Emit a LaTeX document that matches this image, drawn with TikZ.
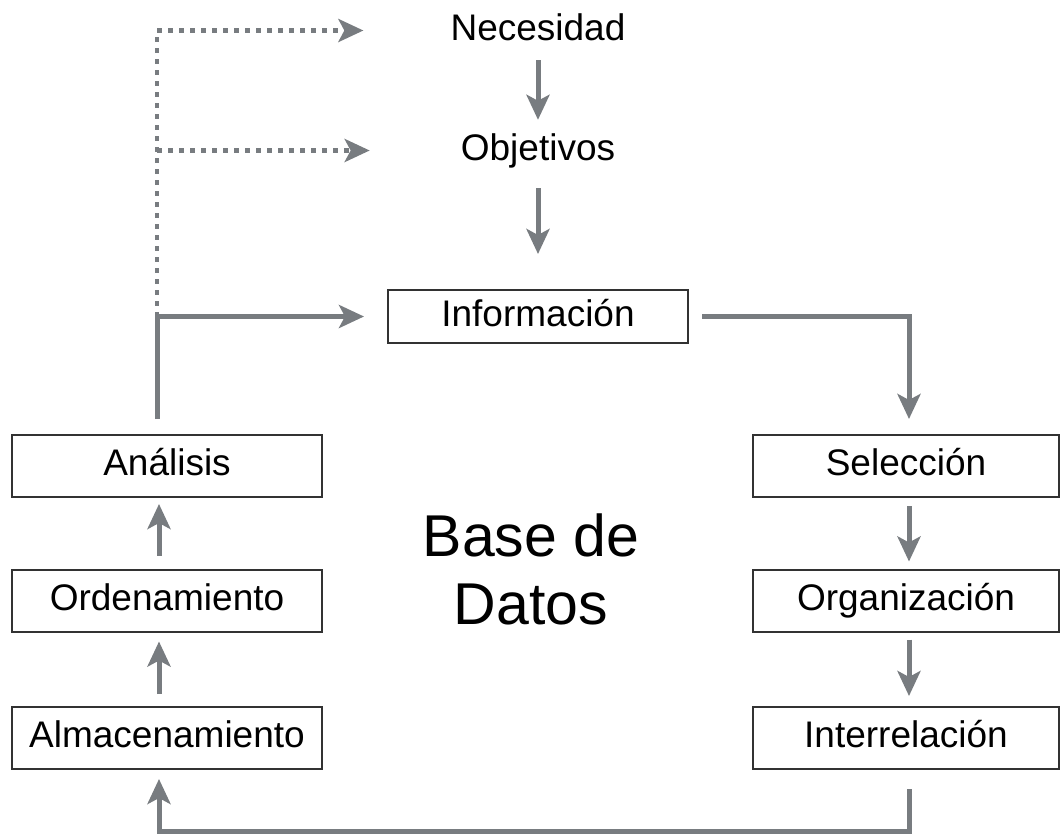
\documentclass[tikz,border=0pt]{standalone}
\usepackage{fontspec}
\setmainfont{Liberation Sans}
\usetikzlibrary{arrows.meta}
\definecolor{conn}{RGB}{120,124,128}
\definecolor{edge}{RGB}{50,50,50}
\tikzset{
  lbl/.style={inner sep=0pt, text height=27pt, text depth=8pt, font=\fontsize{37}{44}\selectfont},
  stepbox/.style={draw=edge, line width=2pt, inner sep=0pt, minimum height=62pt, text height=27pt, text depth=8pt, font=\fontsize{37}{44}\selectfont},
  conline/.style={draw=conn, line width=5pt, -{Stealth[length=25pt,width=23pt,inset=6pt]}},
  dotline/.style={draw=conn, line width=4.5pt, dash pattern=on 4.5pt off 6.5pt, -{Stealth[length=25pt,width=23pt,inset=6pt]}},
}
\begin{document}
\begin{tikzpicture}[x=1pt,y=-1pt]
\useasboundingbox (0,0) rectangle (1061,836);
% text nodes
\node[lbl] (nec) at (538,30.5) {Necesidad};
\node[lbl] (obj) at (538,150.5) {Objetivos};
\node[stepbox, minimum width=300pt, minimum height=53pt] (info) at (538,316.5) {Información};
% left column
\node[stepbox, minimum width=310pt] (ana) at (167,466) {Análisis};
\node[stepbox, minimum width=310pt] (ord) at (167,600.5) {Ordenamiento};
\node[stepbox, minimum width=310pt] (alm) at (167,738) {Almacenamiento};
% right column
\node[stepbox, minimum width=306pt] (sel) at (906,466) {Selección};
\node[stepbox, minimum width=306pt] (org) at (906,600.5) {Organización};
\node[stepbox, minimum width=306pt] (int) at (906,738) {Interrelación};
% centre title
\node[inner sep=0pt, align=center, font=\fontsize{59}{68}\selectfont] (bd) at (531,569.5) {Base de\\Datos};
% junction
\coordinate (j) at (157,316.5);
% connectors
\draw[conline, shorten <=12pt, shorten >=13pt] (nec.south) -- (obj.north);
\draw[conline, shorten <=20pt, shorten >=35pt] (obj.south) -- (info.north);
\draw[conline, shorten <=13pt, shorten >=15pt] (info.east) -| ([xshift=3pt]sel.north);
\draw[conline, shorten <=8pt, shorten >=7pt] ([xshift=3pt]sel.south) -- ([xshift=3pt]org.north);
\draw[conline, shorten <=7pt, shorten >=10pt] ([xshift=3pt]org.south) -- ([xshift=3pt]int.north);
\draw[conline, shorten <=19pt, shorten >=9pt] ([xshift=3pt]int.south) -- ++(0,61) -| ([xshift=-8pt]alm.south);
\draw[conline, shorten <=12pt, shorten >=9pt] ([xshift=-8pt]alm.north) -- ([xshift=-8pt]ord.south);
\draw[conline, shorten <=13pt, shorten >=6pt] ([xshift=-8pt]ord.north) -- ([xshift=-8pt]ana.south);
\draw[conline, shorten <=15pt, shorten >=23pt] ([xshift=-10pt]ana.north) |- (info.west);
\draw[dotline, shorten >=87pt] (j) |- (nec.west);
\draw[dotline, shorten >=91pt] (j |- obj.west) -- (obj.west);
\end{tikzpicture}
\end{document}
